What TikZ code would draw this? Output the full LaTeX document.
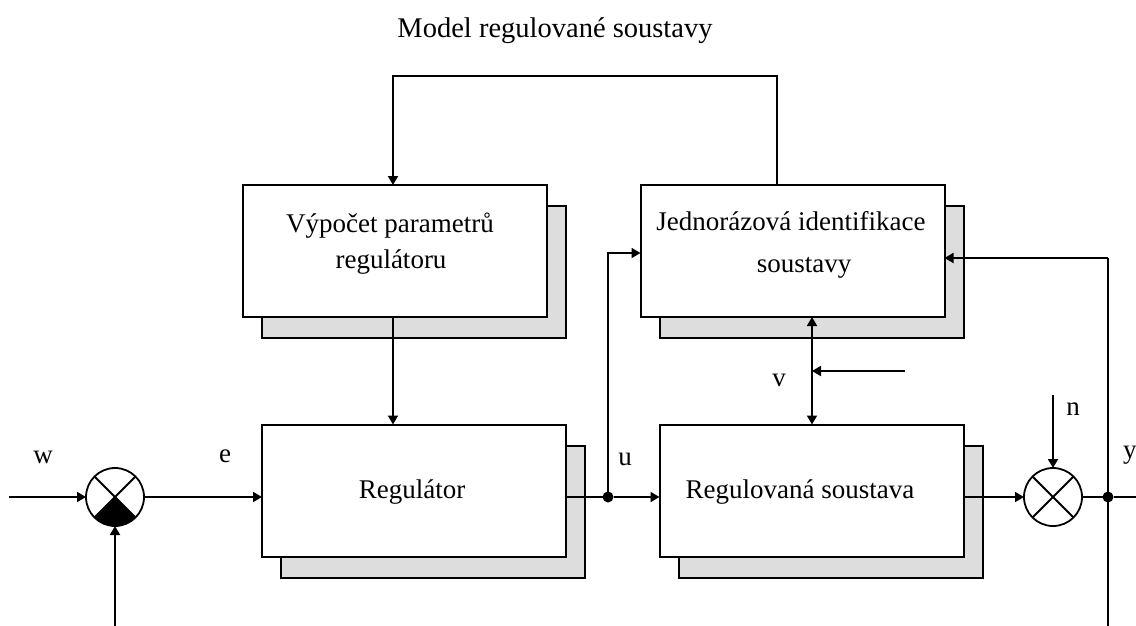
\documentclass[tikz,border=0pt]{standalone}
\usepackage{fontspec}
\setmainfont{Liberation Serif}
\usetikzlibrary{arrows.meta}
\definecolor{shadowgray}{RGB}{221,221,221}
\begin{document}
\begin{tikzpicture}[x=1pt,y=-1pt,
  box/.style={draw, line width=2pt, fill=white, minimum width=304pt, minimum height=132pt, inner sep=0pt, outer sep=0pt},
  shadowbox/.style={box, fill=shadowgray},
  txt/.style={inner sep=0pt, anchor=base, font=\fontsize{27}{32}\selectfont},
  conn/.style={line width=1.8pt},
  arr/.style={conn, -{Triangle[length=9pt,width=10pt]}},
  darr/.style={conn, {Triangle[length=9pt,width=10pt]}-{Triangle[length=9pt,width=10pt]}},
  sumj/.style={draw, circle, line width=1.8pt, minimum size=58pt, inner sep=0pt, outer sep=0pt},
  dotj/.style={circle, fill=black, minimum size=11pt, inner sep=0pt, outer sep=0pt}
]
\useasboundingbox (0,0) rectangle (1136,625);
\clip (0,0) rectangle (1136,625);

% title
\node[txt, font=\fontsize{28.5}{33}\selectfont] (title) at (555,37) {Model regulované soustavy};

% shadows
\node[shadowbox] (calcS)  at (414,272) {};
\node[shadowbox] (identS) at (811.5,272) {};
\node[shadowbox] (regS)   at (433,512) {};
\node[shadowbox] (plantS) at (830.5,512) {};

% front boxes
\node[box] (calc)  at (395,251) {};
\node[box] (ident) at (792.5,251) {};
\node[box] (reg)   at (414,490.5) {};
\node[box] (plant) at (811.5,490.5) {};

% box texts
\node[txt] (calcT1)  at (390,232) {Výpočet parametrů};
\node[txt] (calcT2)  at (391,268) {regulátoru};
\node[txt] (identT1) at (791,230) {Jednorázová identifikace};
\node[txt] (identT2) at (804,272) {soustavy};
\node[txt] (regT)    at (412,498) {Regulátor};
\node[txt] (plantT)  at (800,498) {Regulovaná soustava};

% junctions
\node[sumj] (sumL) at (115,497) {};
\node[sumj] (sumR) at (1053,497) {};
\fill (sumL.center) -- (sumL.225) arc[start angle=225, end angle=315, radius=29pt] -- cycle;
\draw[conn] (sumL.45) -- (sumL.225);
\draw[conn] (sumL.135) -- (sumL.315);
\draw[conn] (sumR.45) -- (sumR.225);
\draw[conn] (sumR.135) -- (sumR.315);

\node[dotj] (udot) at (608,497) {};
\node[dotj] (ydot) at (1108,497) {};

% coordinates
\coordinate (win)  at (9,497);
\coordinate (fb)   at (115,630);
\coordinate (topR) at (777,76);
\coordinate (topL) at (393,76);
\coordinate (vx)   at (812,371);
\coordinate (vin)  at (905,371);
\coordinate (nin)  at (1053,395);
\coordinate (ytop) at (1108,258);
\coordinate (ybot) at (1108,630);
\coordinate (yout) at (1146,497);

% labels
\node[txt] (wL) at (43,463) {w};
\node[txt] (eL) at (225,462) {e};
\node[txt] (uL) at (625,465) {u};
\node[txt] (vL) at (779,386) {v};
\node[txt] (nL) at (1073,415) {n};
\node[txt, anchor=base west] (yL) at (1123,458) {y};

% connectors
\draw[arr] (win) -- (sumL.west);
\draw[arr] (fb) -- (sumL.south);
\draw[arr] (sumL.east) -- (sumL.east -| reg.west);
\draw[conn] (reg.east |- udot) -- (udot);
\draw[arr] (udot) -- (udot -| plant.west);
\draw[arr] (udot) |- ([yshift=-2pt]ident.west);
\draw[arr] (ident.north -| topR) -- (topR) -- (topL) -- (topL |- calc.north);
\draw[arr] (calc.south -| topL) -- (reg.north -| topL);
\draw[darr] (ident.south -| vx) -- (plant.north -| vx);
\draw[arr] (vin) -- (vx);
\draw[arr] (plant.east |- sumR) -- (sumR.west);
\draw[arr] (nin) -- (sumR.north);
\draw[conn] (sumR.east) -- (ydot);
\draw[arr] (ydot) -- (yout);
\draw[conn] (ytop) -- (ybot);
\draw[arr] (ytop) -- (ytop -| ident.east);
\end{tikzpicture}
\end{document}
